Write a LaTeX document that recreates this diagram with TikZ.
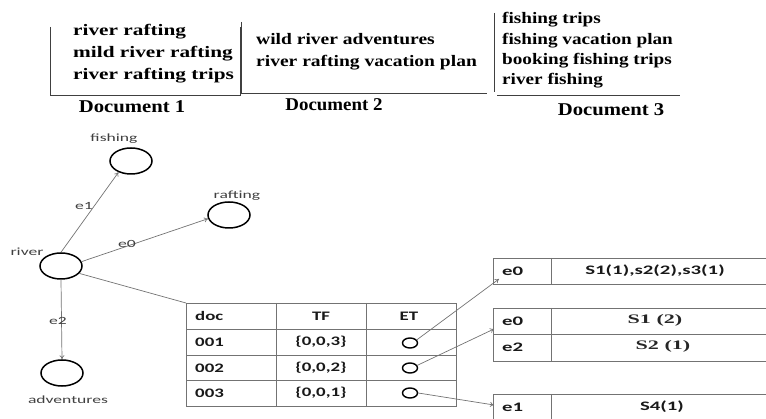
\documentclass[tikz,border=0pt]{standalone}
\usepackage{fontspec}
\usepackage{graphicx}
\setmainfont{Liberation Serif}
\newfontfamily\carl{Carlito}
\usetikzlibrary{shapes.geometric,arrows.meta}
\newcommand{\wx}[2]{\scalebox{#1}[1]{#2}}
\begin{document}
\begin{tikzpicture}[x=1pt,y=-1pt,
  doctext/.style={anchor=base west, inner sep=0, font=\bfseries\fontsize{16}{18}\selectfont},
  doclabel/.style={anchor=base, inner sep=0, font=\bfseries\fontsize{18}{20}\selectfont},
  docline/.style={draw=black!75, line width=0.9pt},
  glabel/.style={inner sep=0, text=black!75, font=\carl\fontsize{11}{13}\selectfont},
  elabel/.style={inner sep=0, text=black!75, font=\carl\fontsize{11}{13}\selectfont},
  ell/.style={ellipse, draw=black, line width=1.5pt, minimum width=42, minimum height=26, inner sep=0},
  small/.style={ellipse, draw=black, line width=1.4pt, minimum width=15, minimum height=10, inner sep=0},
  gedge/.style={draw=black!55, line width=0.7pt, -{To[length=4pt,width=5pt]}},
  gline/.style={draw=black!55, line width=0.7pt},
  tline/.style={draw=black!55, line width=0.8pt},
  tt/.style={inner sep=0, text=black!90, font=\carl\bfseries\fontsize{13}{15}\selectfont},
  st/.style={inner sep=0, text=black!90, font=\carl\bfseries\fontsize{13}{15}\selectfont},
  sr/.style={inner sep=0, text=black!85, font=\bfseries\fontsize{13}{15}\selectfont}
]
\useasboundingbox (0,0) rectangle (766,419);

% ---------------- documents ----------------
\draw[docline] (50,27) -- (50,95) -- (240,95) -- (240,27);
\draw[docline] (241,22) -- (241,93) -- (487,93);
\draw[docline] (494,13) -- (494,92);
\draw[docline] (497,95) -- (680,95);

\node[doctext] (d1a) at (73,36) {\wx{1.33}{river rafting}};
\node[doctext] (d1b) at (73,58) {\wx{1.33}{mild river rafting}};
\node[doctext] (d1c) at (73,80) {\wx{1.33}{river rafting trips}};
\node[doclabel] (doc1) at (132,113) {\wx{1.15}{Document 1}};

\node[doctext] (d2a) at (256,45) {\wx{1.22}{wild river adventures}};
\node[doctext] (d2b) at (256,67) {\wx{1.22}{river rafting vacation plan}};
\node[doclabel] (doc2) at (334,111) {\wx{1.05}{Document 2}};

\node[doctext] (d3a) at (502,24) {\wx{1.2}{fishing trips}};
\node[doctext] (d3b) at (502,45) {\wx{1.2}{fishing vacation plan}};
\node[doctext] (d3c) at (502,65) {\wx{1.2}{booking fishing trips}};
\node[doctext] (d3d) at (502,85) {\wx{1.2}{river fishing}};
\node[doclabel] (doc3) at (611,116) {\wx{1.15}{Document 3}};

% ---------------- graph ----------------
\node[ell] (river) at (61,266) {};
\node[ell] (fishing) at (131,161) {};
\node[ell] (rafting) at (229,215) {};
\node[ell] (adv) at (62,373) {};

\node[glabel] (lriver) at (27,252) {\wx{1.6}{river}};
\node[glabel] (lfish) at (114,139) {\wx{1.6}{fishing}};
\node[glabel] (lraft) at (237,196) {\wx{1.6}{rafting}};
\node[glabel] (ladv) at (68,400) {\wx{1.6}{adventures}};

\draw[gedge] (river.north) -- (fishing.222);
\draw[gedge] (river.12) -- (rafting.190);
\draw[gedge] (river.south) -- (adv.north);

\node[elabel] (le1) at (84,206) {\wx{1.6}{e1}};
\node[elabel] (le0) at (127,244) {\wx{1.6}{e0}};
\node[elabel] (le2) at (58,321) {\wx{1.6}{e2}};

% ---------------- middle table ----------------
\coordinate (tcorner) at (186,303);
\draw[gline] (river.-22) -- (tcorner);
\draw[tline] (186,303) rectangle (456,406);
\foreach \yy in {329,355,380} \draw[tline] (186,\yy) -- (456,\yy);
\foreach \xx in {276,366} \draw[tline] (\xx,303) -- (\xx,406);

\node[tt, anchor=west] (hdoc) at (195,316) {\wx{1.45}{doc}};
\node[tt] (htf) at (321,316) {\wx{1.45}{TF}};
\node[tt] (het) at (409,316) {\wx{1.45}{ET}};
\node[tt, anchor=west] (r1) at (195,342) {\wx{1.45}{001}};
\node[tt, anchor=west] (r2) at (195,368) {\wx{1.45}{002}};
\node[tt, anchor=west] (r3) at (195,393) {\wx{1.45}{003}};
\node[tt] (tf1) at (321,342) {\wx{1.45}{\{0,0,3\}}};
\node[tt] (tf2) at (321,368) {\wx{1.45}{\{0,0,2\}}};
\node[tt] (tf3) at (321,393) {\wx{1.45}{\{0,0,1\}}};

\node[small] (ec1) at (410,343) {};
\node[small] (ec2) at (410,368) {};
\node[small] (ec3) at (410,393) {};

% ---------------- right tables ----------------
\draw[tline] (770,258) -- (493,258) -- (493,284) -- (770,284);
\draw[tline] (551,258) -- (551,284);
\node[st, anchor=west] (a1) at (502,271) {\wx{1.6}{e0}};
\node[st] (a2) at (655,271) {\wx{1.6}{S1(1),s2(2),s3(1)}};

\draw[tline] (770,308) -- (493,308) -- (493,361) -- (770,361);
\draw[tline] (493,334) -- (770,334);
\draw[tline] (551,308) -- (551,361);
\node[st, anchor=west] (b1) at (502,321) {\wx{1.6}{e0}};
\node[st, anchor=west] (b2) at (502,347) {\wx{1.6}{e2}};
\node[sr] (b3) at (655,320) {\wx{1.7}{S1 (2)}};
\node[sr] (b4) at (663,346) {\wx{1.7}{S2 (1)}};

\draw[tline] (770,394) -- (493,394) -- (493,425);
\draw[tline] (551,394) -- (551,425);
\node[st, anchor=west] (c1) at (502,407) {\wx{1.6}{e1}};
\node[st] (c2) at (662,407) {\wx{1.6}{S4(1)}};

\coordinate (ta) at (499,279);
\coordinate (tb) at (494,329);
\coordinate (tc) at (494,405);
\draw[gedge] (ec1.25) -- (ta);
\draw[gedge] (ec2.20) -- (tb);
\draw[gedge] (ec3.east) -- (tc);
\end{tikzpicture}
\end{document}
